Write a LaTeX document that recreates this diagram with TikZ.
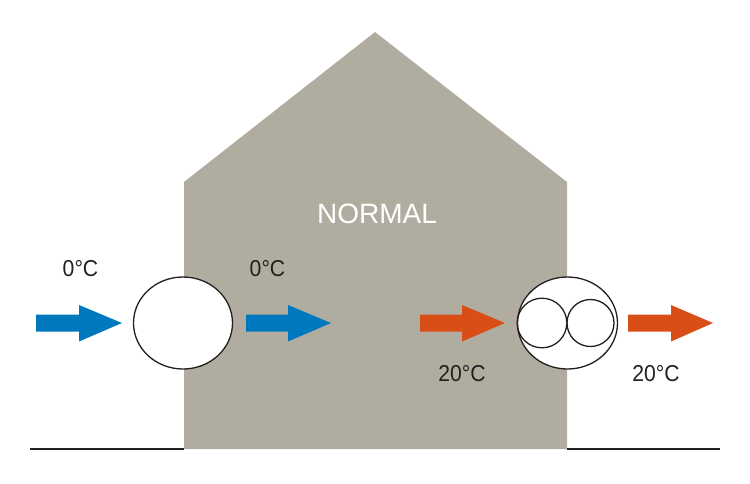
\documentclass[tikz,border=0pt]{standalone}
\usepackage{fontspec}
\setmainfont{Liberation Sans}
\definecolor{housegray}{HTML}{B0ADA0}
\definecolor{coldblue}{HTML}{0078BE}
\definecolor{warmred}{HTML}{D84E16}
\definecolor{inkdark}{HTML}{231F20}
\begin{document}
\begin{tikzpicture}[x=1pt,y=-1pt,
  fatarrow/.style={fill=#1,draw=none},
  unit/.style={draw=inkdark,line width=1.3pt,fill=white,ellipse},
  templabel/.style={text=inkdark,font=\fontsize{23}{23}\selectfont,inner sep=0pt,xscale=0.92}]
\useasboundingbox (0,0) rectangle (750,483);
% house
\fill[housegray] (184,449) -- (184,182) -- (375,32) -- (567,182) -- (567,449) -- cycle;
% ground line
\coordinate (g1) at (30,449);
\coordinate (g2) at (720,449);
\draw[inkdark,line width=1.4pt] (g1) -- (184,449);
\draw[inkdark,line width=1.4pt] (567,449) -- (g2);
\node[text=white,font=\fontsize{28}{28}\selectfont,inner sep=0pt] (normal) at (377,214) {NORMAL};
% arrows
\newcommand{\fatarr}[4]{% x0, headbase, tip, colour
  \fill[#4] (#1,314.5) -- (#2,314.5) -- (#2,305) -- (#3,323) -- (#2,341.5) -- (#2,331.5) -- (#1,331.5) -- cycle;}
\fatarr{36}{79}{122}{coldblue}
\fatarr{246}{288}{331}{coldblue}
\fatarr{420}{462}{505}{warmred}
\fatarr{628}{671}{713}{warmred}
% units
\draw[inkdark,line width=1.3pt,fill=white] (183,323) ellipse [x radius=49.5,y radius=46];
\draw[inkdark,line width=1.3pt,fill=white] (567.5,323) ellipse [x radius=50,y radius=46];
\draw[inkdark,line width=1.3pt] (542,323) circle [radius=24.8];
\draw[inkdark,line width=1.3pt] (590.5,323) circle [radius=23.5];
% labels
\node[templabel] (t1) at (80.5,269) {0°C};
\node[templabel] (t2) at (267.5,269) {0°C};
\node[templabel] (t3) at (462,374) {20°C};
\node[templabel] (t4) at (656,374) {20°C};
\end{tikzpicture}
\end{document}
